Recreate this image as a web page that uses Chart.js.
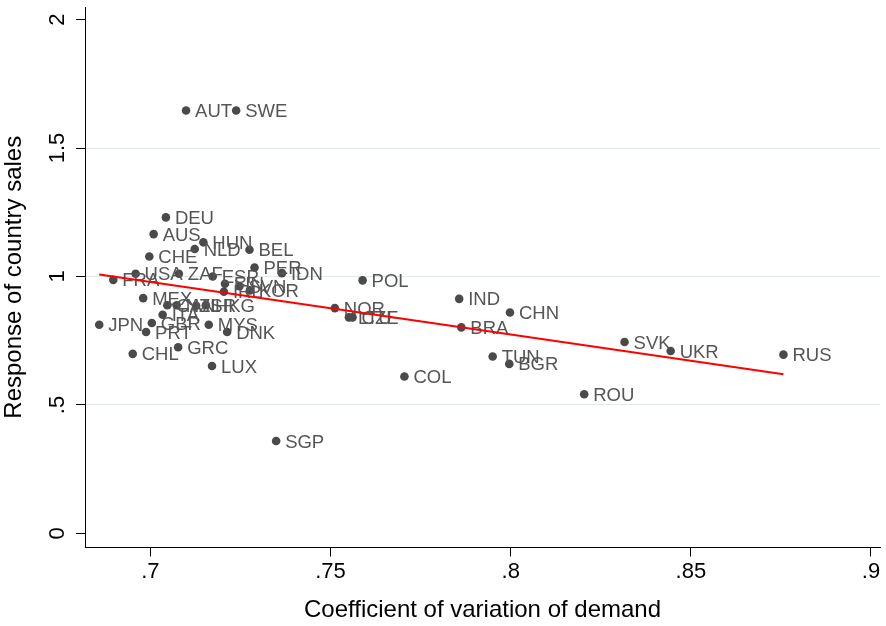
<!DOCTYPE html>
<html>
<head>
<meta charset="utf-8">
<script src="https://cdn.jsdelivr.net/npm/chart.js@4/dist/chart.umd.min.js"></script>
<style>
  html, body { margin: 0; padding: 0; background: #ffffff; }
  canvas { display: block; }
</style>
</head>
<body>
<canvas id="c" width="886" height="626"></canvas>
<script>
// ---- data ----
const countries = ["JPN","FRA","CHL","USA","MEX","PRT","CHE","GBR","AUS","ITA","DEU","CAN","NZL","GRC","ZAF","AUT","NLD","ISR","HKG","HUN","MYS","LUX","ESP","IRL","FIN","DNK","SWE","SVN","BEL","KOR","PER","SGP","IDN","NOR","LTU","CZE","POL","COL","IND","BRA","TUN","BGR","CHN","ROU","SVK","UKR","RUS"];
const cvDemand = [0.6858,0.6897,0.6951,0.6959,0.6980,0.6988,0.6997,0.7004,0.7009,0.7034,0.7043,0.7047,0.7073,0.7077,0.7079,0.7099,0.7123,0.7127,0.7154,0.7147,0.7162,0.7171,0.7173,0.7204,0.7207,0.7213,0.7238,0.7247,0.7275,0.7276,0.7289,0.7349,0.7365,0.7512,0.7551,0.7561,0.7589,0.7705,0.7857,0.7863,0.7950,0.7996,0.7998,0.8204,0.8316,0.8444,0.8757];
const salesResponse = [0.812,0.987,0.699,1.011,0.916,0.784,1.078,0.819,1.165,0.851,1.230,0.888,0.888,0.725,1.011,1.646,1.107,0.886,0.888,1.133,0.812,0.652,1.000,0.941,0.972,0.784,1.646,0.962,1.104,0.946,1.035,0.360,1.013,0.877,0.841,0.841,0.985,0.611,0.913,0.802,0.689,0.660,0.860,0.542,0.745,0.710,0.696];
const fitX = [0.6858, 0.8757];
const fitY = [1.008, 0.620];
const xTicks = [0.7, 0.75, 0.8, 0.85, 0.9];
const xTickLabels = [".7", ".75", ".8", ".85", ".9"];
const yTicks = [0, 0.5, 1, 1.5, 2];
const yTickLabels = ["0", ".5", "1", "1.5", "2"];
const xTitle = "Coefficient of variation of demand";
const yTitle = "Response of country sales";

const FONT = '"Liberation Sans", Arial, Helvetica, sans-serif';

const labelPlugin = {
  id: 'pointLabels',
  afterDatasetDraw(chart, args) {
    if (args.index !== 1) return;
    const ctx = chart.ctx;
    ctx.save();
    ctx.font = '18.5px ' + FONT;
    ctx.fillStyle = '#555555';
    ctx.textAlign = 'left';
    ctx.textBaseline = 'alphabetic';
    args.meta.data.forEach((el, i) => {
      ctx.fillText(countries[i], el.x + 9, el.y + 6.6);
    });
    ctx.restore();
  }
};

function noPad(s) {
  s.paddingTop = 0; s.paddingBottom = 0; s.paddingLeft = 0; s.paddingRight = 0;
}

new Chart(document.getElementById('c'), {
  type: 'scatter',
  data: {
    datasets: [
      {
        type: 'line',
        data: fitX.map((x, i) => ({ x: x, y: fitY[i] })),
        borderColor: '#ff0000',
        borderWidth: 2,
        pointRadius: 0,
        fill: false,
        order: 0
      },
      {
        type: 'scatter',
        data: cvDemand.map((x, i) => ({ x: x, y: salesResponse[i] })),
        backgroundColor: '#4a4a4a',
        borderWidth: 0,
        pointRadius: 4.3,
        order: 1
      }
    ]
  },
  options: {
    responsive: false,
    animation: false,
    devicePixelRatio: 1,
    layout: { padding: { top: 7, right: 6, bottom: 0, left: 0 } },
    plugins: { legend: { display: false }, tooltip: { enabled: false } },
    scales: {
      x: {
        type: 'linear',
        position: 'bottom',
        min: 0.68185,
        max: 0.9025,
        afterBuildTicks: (s) => { s.ticks = xTicks.map(v => ({ value: v })); },
        afterFit: (s) => { s.height = 78.5; noPad(s); },
        ticks: {
          callback: (v, i) => xTickLabels[i],
          font: { family: FONT, size: 22 },
          color: '#000000',
          padding: 2,
          maxRotation: 0,
          autoSkip: false
        },
        grid: { drawOnChartArea: false, tickLength: 9, tickColor: '#000000', color: '#000000', lineWidth: 1 },
        border: { color: '#000000', width: 1 },
        title: { display: true, text: xTitle, font: { family: FONT, size: 24 }, color: '#000000', padding: { top: 0, bottom: 1 } }
      },
      y: {
        type: 'linear',
        min: -0.0545,
        max: 2.0487,
        afterBuildTicks: (s) => { s.ticks = yTicks.map(v => ({ value: v })); },
        afterFit: (s) => { s.width = 85; noPad(s); },
        ticks: {
          callback: (v, i) => yTickLabels[i],
          font: { family: FONT, size: 22 },
          color: '#000000',
          padding: 3,
          minRotation: 90,
          maxRotation: 90,
          crossAlign: 'center',
          autoSkip: false
        },
        grid: {
          color: (c) => (c.tick && (c.tick.value === 0 || c.tick.value === 2)) ? 'rgba(0,0,0,0)' : 'rgb(224,234,237)',
          tickColor: '#000000',
          tickLength: 9,
          lineWidth: 1
        },
        border: { color: '#000000', width: 1 },
        title: { display: true, text: yTitle, font: { family: FONT, size: 24 }, color: '#000000', padding: { top: 0, bottom: 0 } }
      }
    }
  },
  plugins: [labelPlugin]
});
</script>
</body>
</html>
